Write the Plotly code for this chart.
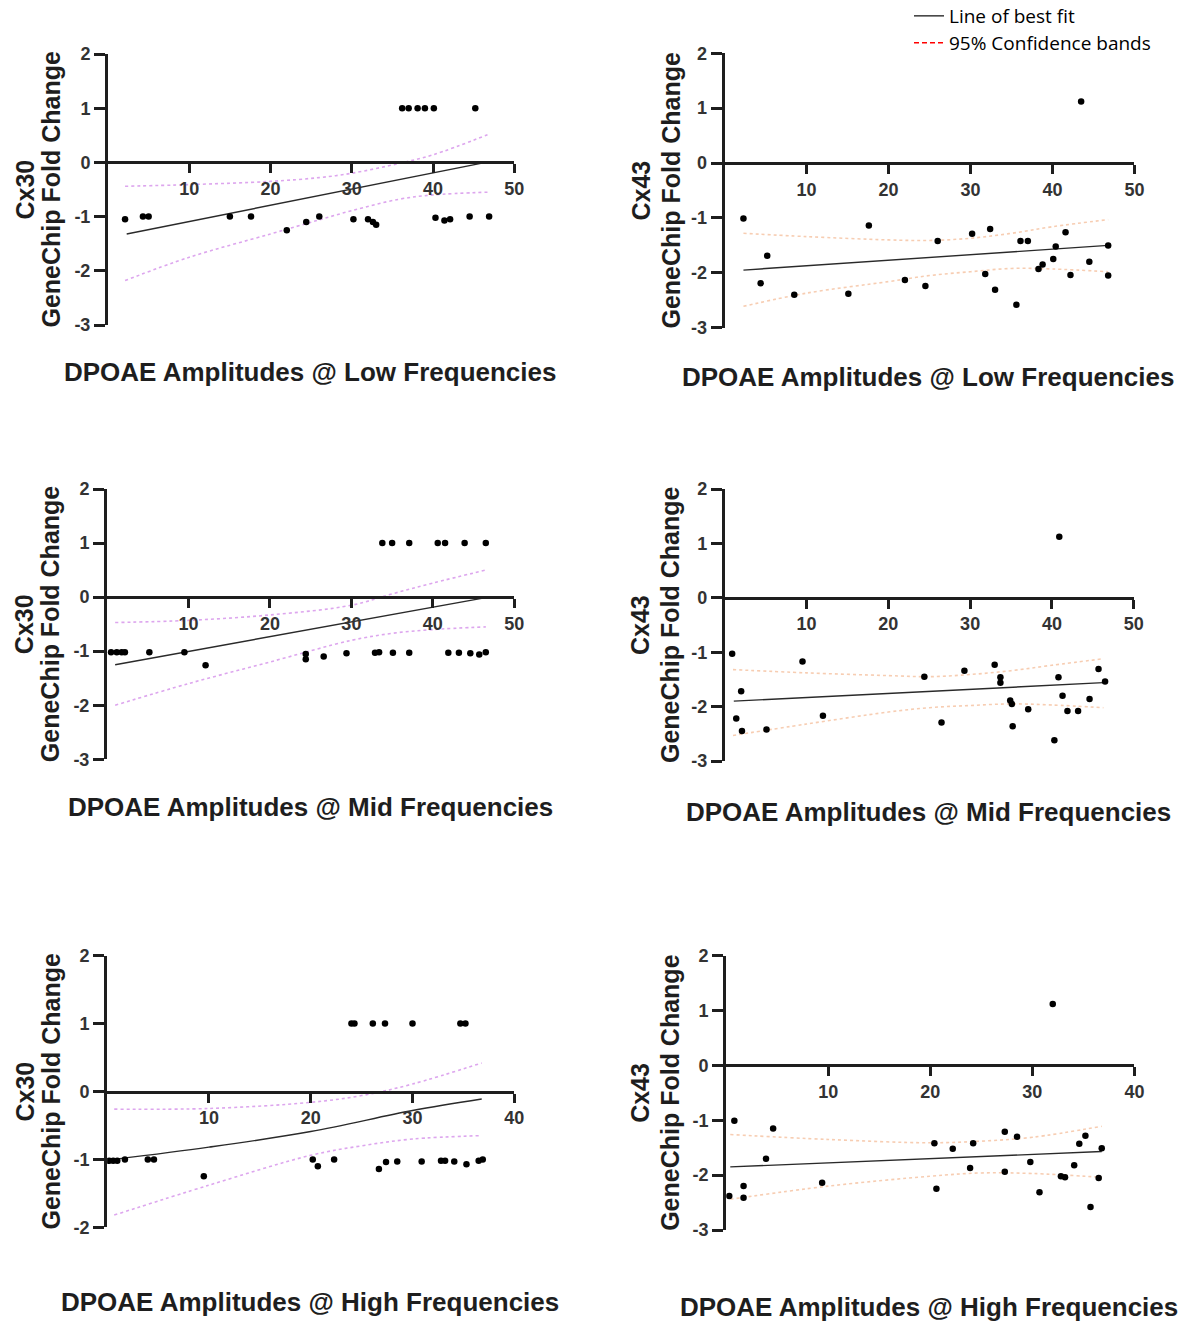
import plotly.graph_objects as go

W, H = 1186, 1321

# ---------------- DATA ----------------
# Panel A: Cx30 vs DPOAE low frequencies
a_x = [2.1, 4.3, 5.0, 15.0, 17.6, 22.0, 24.4, 26.0, 30.2, 32.0, 32.6, 33.0,
       40.3, 41.4, 42.1, 44.5, 46.9, 36.2, 37.0, 38.1, 39.0, 40.1, 45.2]
a_y = [-1.05, -1.0, -1.0, -1.0, -1.0, -1.25, -1.1, -1.0, -1.05, -1.05, -1.1, -1.15,
       -1.02, -1.07, -1.05, -1.0, -1.0, 1.0, 1.0, 1.0, 1.0, 1.0, 1.0]
a_fit_x = [2.3, 46.5]
a_fit_y = [-1.32, 0.0]
a_band_x = [2.1, 10, 20, 26, 30, 35.8, 40, 46.7]
a_upper = [-0.44, -0.41, -0.35, -0.28, -0.20, -0.02, 0.14, 0.51]
a_lower = [-2.18, -1.75, -1.32, -1.06, -0.89, -0.68, -0.60, -0.55]

# Panel B: Cx43 vs DPOAE low frequencies
b_x = [2.3, 4.4, 5.2, 8.5, 15.1, 17.6, 22.0, 24.5, 26.0, 30.2, 31.8, 32.4, 33.0,
       35.6, 36.1, 37.0, 38.3, 38.8, 40.1, 40.4, 41.6, 42.2, 43.5, 44.5, 46.8, 46.8]
b_y = [-1.01, -2.19, -1.69, -2.40, -2.38, -1.14, -2.13, -2.24, -1.42, -1.29, -2.02,
       -1.20, -2.31, -2.58, -1.42, -1.42, -1.93, -1.85, -1.75, -1.52, -1.26, -2.04,
       1.12, -1.80, -1.50, -2.05]
b_fit_x = [2.3, 46.8]
b_fit_y = [-1.95, -1.50]
b_band_x = [2.3, 10, 20, 25, 30, 35, 40, 46.8]
b_upper = [-1.28, -1.34, -1.40, -1.41, -1.37, -1.28, -1.16, -1.03]
b_lower = [-2.61, -2.37, -2.16, -2.05, -1.98, -1.92, -1.93, -1.98]

# Panel C: Cx30 vs DPOAE mid frequencies
c_x = [0.5, 1.2, 1.8, 2.2, 5.2, 9.5, 12.1, 24.4, 24.4, 26.6, 29.4, 32.9, 33.4, 35.1,
       37.1, 41.9, 43.2, 44.6, 45.7, 46.5, 33.8, 35.0, 37.1, 40.6, 41.5, 43.9, 46.5]
c_y = [-1.02, -1.02, -1.02, -1.02, -1.02, -1.02, -1.26, -1.05, -1.15, -1.10, -1.04,
       -1.03, -1.02, -1.03, -1.03, -1.03, -1.03, -1.04, -1.06, -1.02,
       1.0, 1.0, 1.0, 1.0, 1.0, 1.0, 1.0]
c_fit_x = [1.0, 46.5]
c_fit_y = [-1.25, -0.01]
c_band_x = [1.0, 10, 20, 30, 35, 40, 46.5]
c_upper = [-0.47, -0.43, -0.33, -0.15, 0.06, 0.26, 0.50]
c_lower = [-2.00, -1.60, -1.20, -0.80, -0.67, -0.60, -0.55]

# Panel D: Cx43 vs DPOAE mid frequencies
d_x = [0.9, 1.4, 2.0, 2.1, 5.1, 9.5, 12.0, 24.4, 26.5, 29.3, 33.0, 33.7, 33.7, 34.9,
       35.1, 35.2, 37.1, 40.3, 40.8, 40.9, 41.3, 41.9, 43.2, 44.6, 45.7, 46.5]
d_y = [-1.03, -2.22, -1.72, -2.45, -2.42, -1.17, -2.17, -1.45, -2.29, -1.34, -1.23,
       -1.46, -1.56, -1.89, -1.95, -2.36, -2.05, -2.62, -1.46, 1.12, -1.80, -2.08,
       -2.08, -1.86, -1.31, -1.54]
d_fit_x = [1.1, 46.3]
d_fit_y = [-1.90, -1.56]
d_band_x = [1.0, 10, 20, 25, 30, 35, 40, 46.3]
d_upper = [-1.32, -1.38, -1.43, -1.45, -1.41, -1.34, -1.24, -1.12]
d_lower = [-2.53, -2.32, -2.10, -2.02, -1.98, -1.95, -1.97, -2.02]

# Panel E: Cx30 vs DPOAE high frequencies
e_x = [0.2, 0.6, 1.0, 1.75, 4.0, 4.6, 9.5, 20.2, 20.7, 22.3, 26.7, 27.4, 28.5, 30.9,
       32.8, 33.2, 34.1, 35.3, 36.5, 36.9, 24.0, 24.3, 26.1, 27.3, 30.0, 34.7, 35.2]
e_y = [-1.02, -1.02, -1.02, -1.0, -1.0, -1.0, -1.25, -1.0, -1.1, -1.0, -1.14, -1.04,
       -1.03, -1.03, -1.02, -1.02, -1.03, -1.07, -1.02, -1.0,
       1.0, 1.0, 1.0, 1.0, 1.0, 1.0, 1.0]
e_fit_x = [0.7, 10, 20, 30, 36.8]
e_fit_y = [-1.0, -0.82, -0.59, -0.28, -0.11]
e_band_x = [0.7, 10, 20, 25, 30, 36.8]
e_upper = [-0.26, -0.25, -0.16, -0.06, 0.11, 0.42]
e_lower = [-1.82, -1.38, -0.94, -0.80, -0.70, -0.65]

# Panel F: Cx43 vs DPOAE high frequencies
f_x = [0.3, 0.8, 1.7, 1.7, 3.9, 4.6, 9.4, 20.4, 20.6, 22.2, 23.9, 24.2, 27.3, 27.3,
       28.5, 29.8, 30.7, 32.0, 32.8, 33.2, 34.1, 34.6, 35.2, 35.7, 36.5, 36.8]
f_y = [-2.38, -1.01, -2.20, -2.41, -1.70, -1.15, -2.14, -1.42, -2.25, -1.52, -1.87,
       -1.42, -1.21, -1.94, -1.30, -1.76, -2.31, 1.12, -2.02, -2.04, -1.82, -1.43,
       -1.28, -2.58, -2.05, -1.51]
f_fit_x = [0.4, 36.8]
f_fit_y = [-1.85, -1.57]
f_band_x = [0.4, 10, 20, 25, 30, 36.8]
f_upper = [-1.26, -1.35, -1.41, -1.38, -1.31, -1.11]
f_lower = [-2.44, -2.20, -2.02, -1.96, -1.97, -2.04]

x_ticks_50 = [10, 20, 30, 40, 50]
x_ticks_40 = [10, 20, 30, 40]
y_ticks_5 = [-3, -2, -1, 0, 1, 2]
y_ticks_4 = [-2, -1, 0, 1, 2]
y_text_5 = ["-3", "-2", "-1", "0", "1", "2"]
y_text_4 = ["-2", "-1", "0", "1", "2"]

CX30_BAND = "#dda6ee"
CX43_BAND = "#f7cdb2"

panels = [
    dict(x=a_x, y=a_y, fx=a_fit_x, fy=a_fit_y, bx=a_band_x, bu=a_upper, bl=a_lower,
         band=CX30_BAND, xr=[0, 50], xt=x_ticks_50, yr=[-3, 2], yt=y_ticks_5, ytt=y_text_5,
         px=(108, 514.3), py=(54, 325), gene="Cx30",
         title="DPOAE Amplitudes @ Low Frequencies", tpos=(310, 372),
         g1=24, g2=50),
    dict(x=b_x, y=b_y, fx=b_fit_x, fy=b_fit_y, bx=b_band_x, bu=b_upper, bl=b_lower,
         band=CX43_BAND, xr=[0, 50], xt=x_ticks_50, yr=[-3, 2], yt=y_ticks_5, ytt=y_text_5,
         px=(724.6, 1134.4), py=(53.3, 327.7), gene="Cx43",
         title="DPOAE Amplitudes @ Low Frequencies", tpos=(928, 377),
         g1=640, g2=670),
    dict(x=c_x, y=c_y, fx=c_fit_x, fy=c_fit_y, bx=c_band_x, bu=c_upper, bl=c_lower,
         band=CX30_BAND, xr=[0, 50], xt=x_ticks_50, yr=[-3, 2], yt=y_ticks_5, ytt=y_text_5,
         px=(107, 514.3), py=(489, 759.3), gene="Cx30",
         title="DPOAE Amplitudes @ Mid Frequencies", tpos=(310, 807),
         g1=24, g2=50),
    dict(x=d_x, y=d_y, fx=d_fit_x, fy=d_fit_y, bx=d_band_x, bu=d_upper, bl=d_lower,
         band=CX43_BAND, xr=[0, 50], xt=x_ticks_50, yr=[-3, 2], yt=y_ticks_5, ytt=y_text_5,
         px=(724.8, 1133.7), py=(489, 761), gene="Cx43",
         title="DPOAE Amplitudes @ Mid Frequencies", tpos=(928, 812),
         g1=640, g2=670),
    dict(x=e_x, y=e_y, fx=e_fit_x, fy=e_fit_y, bx=e_band_x, bu=e_upper, bl=e_lower,
         band=CX30_BAND, xr=[0, 40], xt=x_ticks_40, yr=[-2, 2], yt=y_ticks_4, ytt=y_text_4,
         px=(107.1, 514.3), py=(955.7, 1227.3), gene="Cx30",
         title="DPOAE Amplitudes @ High Frequencies", tpos=(310, 1302),
         g1=24, g2=50),
    dict(x=f_x, y=f_y, fx=f_fit_x, fy=f_fit_y, bx=f_band_x, bu=f_upper, bl=f_lower,
         band=CX43_BAND, xr=[0, 40], xt=x_ticks_40, yr=[-3, 2], yt=y_ticks_5, ytt=y_text_5,
         px=(726.2, 1134.4), py=(955.7, 1230), gene="Cx43",
         title="DPOAE Amplitudes @ High Frequencies", tpos=(929, 1307),
         g1=640, g2=670),
]

FONT = "Liberation Sans, Arial, sans-serif"
AXC = "#1e1e1e"
TICKC = "#333333"

fig = go.Figure()
annotations = []
layout = {}

for i, p in enumerate(panels, start=1):
    xa = "x" if i == 1 else f"x{i}"
    ya = "y" if i == 1 else f"y{i}"
    xkey = "xaxis" if i == 1 else f"xaxis{i}"
    ykey = "yaxis" if i == 1 else f"yaxis{i}"
    xd = [p["px"][0] / W, p["px"][1] / W]
    yd = [1 - p["py"][1] / H, 1 - p["py"][0] / H]
    ymin, ymax = p["yr"]
    zero_pos = yd[0] + (0 - ymin) / (ymax - ymin) * (yd[1] - yd[0])

    for band in (p["bu"], p["bl"]):
        fig.add_trace(go.Scatter(x=p["bx"], y=band, xaxis=xa, yaxis=ya, mode="lines",
                                 line=dict(color=p["band"], width=1.6, dash="dot", shape="spline"),
                                 showlegend=False, hoverinfo="skip"))
    fig.add_trace(go.Scatter(x=p["fx"], y=p["fy"], xaxis=xa, yaxis=ya, mode="lines",
                             line=dict(color="#2a2a2a", width=1.4, shape="spline"),
                             name="Line of best fit", showlegend=(i == 1),
                             legend="legend"))
    fig.add_trace(go.Scatter(x=p["x"], y=p["y"], xaxis=xa, yaxis=ya, mode="markers",
                             marker=dict(color="black", size=6.5, symbol="circle"),
                             showlegend=False))

    layout[xkey] = dict(domain=xd, range=p["xr"], anchor="free", position=zero_pos,
                        showline=True, linecolor=AXC, linewidth=3,
                        ticks="outside", ticklen=9, tickwidth=3, tickcolor=AXC,
                        tickvals=p["xt"], showgrid=False, zeroline=False, automargin=False,
                        tickfont=dict(family=FONT, size=18, color=TICKC, weight="bold"))
    layout[ykey] = dict(domain=yd, range=p["yr"], anchor=xa,
                        showline=True, linecolor=AXC, linewidth=3,
                        ticks="outside", ticklen=11, tickwidth=3, tickcolor=AXC,
                        tickvals=p["yt"], ticktext=p["ytt"], showgrid=False, zeroline=False,
                        automargin=False,
                        tickfont=dict(family=FONT, size=18, color=TICKC, weight="bold"))

    ymid = 1 - (p["py"][0] + p["py"][1]) / 2 / H
    annotations.append(dict(text=p["gene"], x=p["g1"] / W, y=ymid, xref="paper", yref="paper",
                            xanchor="center", yanchor="middle", textangle=-90, showarrow=False,
                            font=dict(family=FONT, size=25, color="#1e1e1e", weight="bold")))
    annotations.append(dict(text="GeneChip Fold Change", x=p["g2"] / W, y=ymid,
                            xref="paper", yref="paper", xanchor="center", yanchor="middle",
                            textangle=-90, showarrow=False,
                            font=dict(family=FONT, size=25, color="#1e1e1e", weight="bold")))
    annotations.append(dict(text=p["title"], x=p["tpos"][0] / W, y=1 - p["tpos"][1] / H,
                            xref="paper", yref="paper", xanchor="center", yanchor="middle",
                            showarrow=False,
                            font=dict(family=FONT, size=26, color="#1e1e1e", weight="bold")))

# legend entry for the confidence bands
fig.add_trace(go.Scatter(x=[None], y=[None], mode="lines",
                         line=dict(color="red", width=1.5, dash="5px,3px"),
                         name="95% Confidence bands", showlegend=True, legend="legend2"))

legend_font = dict(family="Open Sans, Liberation Sans, sans-serif", size=19, color="black")
fig.update_layout(
    width=W, height=H,
    margin=dict(l=0, r=0, t=0, b=0, pad=0, autoexpand=False),
    paper_bgcolor="white", plot_bgcolor="white",
    annotations=annotations,
    legend=dict(x=909 / W, y=1 - 16 / H, xanchor="left", yanchor="middle",
                font=legend_font, bgcolor="rgba(0,0,0,0)", itemwidth=30),
    legend2=dict(x=909 / W, y=1 - 43 / H, xanchor="left", yanchor="middle",
                 font=legend_font, bgcolor="rgba(0,0,0,0)", itemwidth=30),
    **layout,
)

fig.write_html("out.html")
